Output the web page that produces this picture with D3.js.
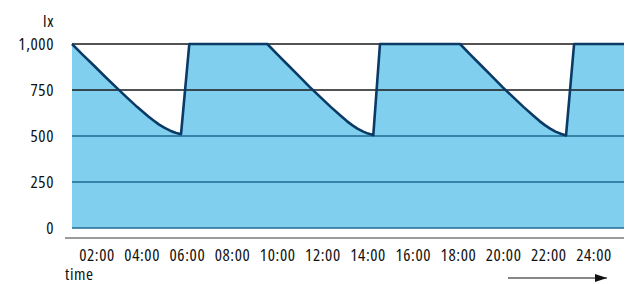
<!DOCTYPE html>
<html lang="en">
<head>
  <meta charset="UTF-8">
  <title>Illuminance over time</title>
  <script src="https://d3js.org/d3.v7.min.js"></script>
  <style>
    body {
      margin: 0;
      background: #fff;
    }

    svg {
      display: block;
    }

    text {
      font-family: "Open Sans", sans-serif;
      font-stretch: 87.5%;
      font-size: 17px;
      letter-spacing: 0.6px;
      fill: #111;
    }
  </style>
</head>
<body>
  <svg width="632" height="284"></svg>

  <script>
    // hours since start and measured illuminance (lx)
    const hours = [
      0, 0.47, 0.95, 1.42, 1.9, 2.37, 2.84, 3.32, 3.56, 3.79, 4.03, 4.27, 4.5, 4.74,
      5.1, 8.49,
      8.95, 9.41, 9.87, 10.33, 10.8, 11.26, 11.72, 11.95, 12.18, 12.41, 12.64, 12.87, 13.1,
      13.39, 16.87,
      17.33, 17.79, 18.25, 18.71, 19.18, 19.64, 20.1, 20.33, 20.56, 20.79, 21.02, 21.25, 21.48,
      21.83, 24
    ];
    const lux = [
      1000, 941, 883, 825, 767, 711, 657, 606, 583, 562, 544, 529, 518, 510,
      1000, 1000,
      941, 883, 825, 767, 711, 657, 606, 581, 559, 540, 525, 513, 505,
      1000, 1000,
      941, 883, 825, 767, 711, 657, 606, 581, 559, 540, 524, 512, 503,
      1000, 1000
    ];

    const yTicks = [0, 250, 500, 750, 1000];
    const timeLabels = ["02:00", "04:00", "06:00", "08:00", "10:00", "12:00",
      "14:00", "16:00", "18:00", "20:00", "22:00", "24:00"];

    const svg = d3.select("svg");
    const data = hours.map((h, i) => ({ h: h, v: lux[i] }));

    const x = d3.scaleLinear().domain([0, 24]).range([72, 624]);
    const y = d3.scaleLinear().domain([0, 1000]).range([228, 44]);
    const xl = d3.scalePoint().domain(timeLabels).range([97, 594]);

    // filled area under the curve
    svg.append("path")
      .datum(data)
      .attr("fill", "#80cfef")
      .attr("d", d3.area().x(d => x(d.h)).y0(y(0)).y1(d => y(d.v)));

    // grid lines, blue where they run inside the fill
    svg.selectAll(".grid")
      .data(yTicks)
      .enter().append("line")
      .attr("x1", x(0))
      .attr("x2", x(24))
      .attr("y1", d => y(d))
      .attr("y2", d => y(d))
      .attr("stroke", d => d <= 500 ? "#1f6a92" : "#1a1a1a")
      .attr("stroke-width", 1.5);

    // outline
    svg.append("path")
      .datum(data)
      .attr("fill", "none")
      .attr("stroke", "#0a3a66")
      .attr("stroke-width", 2.6)
      .attr("stroke-linejoin", "round")
      .attr("d", d3.line().x(d => x(d.h)).y(d => y(d.v)));

    // y labels
    svg.selectAll(".ylab")
      .data(yTicks)
      .enter().append("text")
      .attr("x", 54)
      .attr("y", d => y(d))
      .attr("dy", "0.35em")
      .attr("text-anchor", "end")
      .text(d => d3.format(",")(d));

    svg.append("text")
      .attr("x", 54)
      .attr("y", 21)
      .attr("dy", "0.35em")
      .attr("text-anchor", "end")
      .text("lx");

    // x axis baseline
    svg.append("line")
      .attr("x1", 65)
      .attr("x2", 624)
      .attr("y1", 238)
      .attr("y2", 238)
      .attr("stroke", "#7a7a7a")
      .attr("stroke-width", 1.5);

    svg.selectAll(".xlab")
      .data(timeLabels)
      .enter().append("text")
      .attr("x", d => xl(d))
      .attr("y", 255)
      .attr("dy", "0.35em")
      .attr("text-anchor", "middle")
      .text(d => d);

    svg.append("text")
      .attr("x", 65)
      .attr("y", 274)
      .attr("dy", "0.35em")
      .text("time");

    // arrow
    svg.append("defs").append("marker")
      .attr("id", "arrow")
      .attr("viewBox", "0 0 12 8")
      .attr("refX", 12)
      .attr("refY", 4)
      .attr("markerWidth", 12)
      .attr("markerHeight", 8)
      .attr("markerUnits", "userSpaceOnUse")
      .attr("orient", "auto")
      .append("path")
      .attr("d", "M0,0 L12,4 L0,8 Z")
      .attr("fill", "#111");

    svg.append("line")
      .attr("x1", 508)
      .attr("x2", 607)
      .attr("y1", 278)
      .attr("y2", 278)
      .attr("stroke", "#111")
      .attr("stroke-width", 1.2)
      .attr("marker-end", "url(#arrow)");
  </script>
</body>
</html>
